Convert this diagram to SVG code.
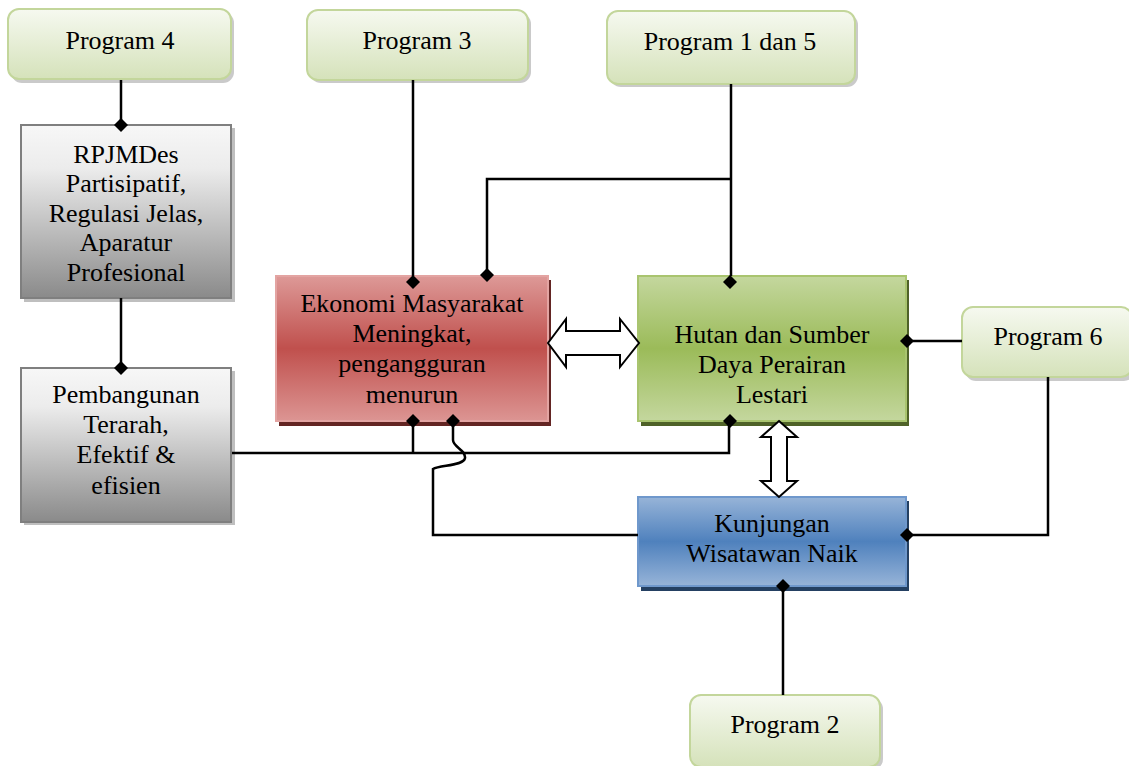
<svg xmlns="http://www.w3.org/2000/svg" xmlns:xlink="http://www.w3.org/1999/xlink" width="1129" height="766" viewBox="0 0 1129 766">
<defs>
<linearGradient id="gProg" x1="0" y1="0" x2="0" y2="1"><stop offset="0" stop-color="#f6f9f0"/><stop offset="1" stop-color="#d5e2ba"/></linearGradient>
<linearGradient id="gGray" x1="0" y1="0" x2="0" y2="1"><stop offset="0" stop-color="#f7f7f7"/><stop offset="0.25" stop-color="#ececec"/><stop offset="1" stop-color="#8a8a8a"/></linearGradient>
<linearGradient id="gRed" x1="0" y1="0" x2="0" y2="1"><stop offset="0" stop-color="#dd9997"/><stop offset="0.5" stop-color="#c0504d"/><stop offset="1" stop-color="#dc9593"/></linearGradient>
<linearGradient id="gGreen" x1="0" y1="0" x2="0" y2="1"><stop offset="0" stop-color="#c4d79e"/><stop offset="0.5" stop-color="#9bbb59"/><stop offset="1" stop-color="#c4d79e"/></linearGradient>
<linearGradient id="gBlue" x1="0" y1="0" x2="0" y2="1"><stop offset="0" stop-color="#97b4d8"/><stop offset="0.5" stop-color="#4f81bd"/><stop offset="1" stop-color="#97b4d8"/></linearGradient>
<path id="dia" d="M0,-7 L7,0 L0,7 L-7,0 Z" fill="#000"/>
</defs>
<style>
text{font-family:"Liberation Serif","Times New Roman","DejaVu Serif",serif;font-size:26px;fill:#000;text-anchor:middle}
.prog{fill:url(#gProg);stroke:#c3d69b;stroke-width:2}
.progSh{fill:#a6a6a6;opacity:0.6}
.gray{fill:url(#gGray);stroke:#7f7f7f;stroke-width:2}
.graySh{fill:#bfbfbf}
.red{fill:url(#gRed);stroke:#e3a4a2;stroke-width:2}
.redSh{fill:#632523}
.green{fill:url(#gGreen);stroke:#a9c46f;stroke-width:2}
.greenSh{fill:#4f6228}
.blue{fill:url(#gBlue);stroke:#6f98cc;stroke-width:2}
.blueSh{fill:#244062}
.conn{fill:none;stroke:#000;stroke-width:2.5}
.dbl{fill:#fff;stroke:#000;stroke-width:2;stroke-linejoin:miter}
</style>
<rect width="1129" height="766" fill="#fff"/>
<g id="program4">
<rect class="progSh" x="11" y="12" width="223" height="71" rx="11"/>
<rect class="prog" x="8" y="9" width="223" height="70" rx="11"/>
<text x="120" y="49">Program 4</text>
</g>
<g id="program3">
<rect class="progSh" x="310" y="13" width="221" height="70" rx="11"/>
<rect class="prog" x="307" y="10" width="221" height="70" rx="11"/>
<text x="417" y="49">Program 3</text>
</g>
<g id="program15">
<rect class="progSh" x="610" y="14" width="248" height="73" rx="11"/>
<rect class="prog" x="607" y="11" width="248" height="73" rx="11"/>
<text x="730" y="50">Program 1 dan 5</text>
</g>
<g id="rpjmdes">
<rect class="graySh" x="24" y="128" width="211" height="174"/>
<rect class="gray" x="21" y="125" width="210" height="173"/>
<text x="126" y="163">RPJMDes</text>
<text x="126" y="192">Partisipatif,</text>
<text x="126" y="222">Regulasi Jelas,</text>
<text x="126" y="251">Aparatur</text>
<text x="126" y="281">Profesional</text>
</g>
<g id="pembangunan">
<rect class="graySh" x="24" y="371" width="211" height="154"/>
<rect class="gray" x="21" y="368" width="210" height="154"/>
<text x="126" y="403">Pembangunan</text>
<text x="126" y="433">Terarah,</text>
<text x="126" y="463">Efektif &amp;</text>
<text x="126" y="494">efisien</text>
</g>
<g id="ekonomi">
<rect class="redSh" x="279" y="280" width="272" height="146"/>
<rect class="red" x="276" y="276" width="272" height="145"/>
<text x="412" y="312">Ekonomi Masyarakat</text>
<text x="412" y="342">Meningkat,</text>
<text x="412" y="372">pengangguran</text>
<text x="412" y="403">menurun</text>
</g>
<g id="hutan">
<rect class="greenSh" x="641" y="280" width="268" height="146"/>
<rect class="green" x="638" y="276" width="268" height="145"/>
<text x="772" y="343">Hutan dan Sumber</text>
<text x="772" y="373">Daya Perairan</text>
<text x="772" y="403">Lestari</text>
</g>
<g id="kunjungan">
<rect class="blueSh" x="641" y="501" width="268" height="90"/>
<rect class="blue" x="638" y="497" width="268" height="89"/>
<text x="772" y="532">Kunjungan</text>
<text x="772" y="562">Wisatawan Naik</text>
</g>
<g id="program6">
<rect class="progSh" x="965" y="310" width="170" height="71" rx="11"/>
<rect class="prog" x="962" y="307" width="170" height="70" rx="11"/>
<text x="1048" y="345">Program 6</text>
</g>
<g id="program2">
<rect class="progSh" x="693" y="698" width="190" height="72" rx="11"/>
<rect class="prog" x="690" y="695" width="190" height="72" rx="11"/>
<text x="785" y="733">Program 2</text>
</g>
<g id="connectors">
<path class="conn" d="M121,80 V125"/>
<path class="conn" d="M121,298 V368"/>
<path class="conn" d="M413,80 V276"/>
<path class="conn" d="M731,84 V276"/>
<path class="conn" d="M731,179 H487 V276"/>
<path class="conn" d="M232,453 H729 V421"/>
<path class="conn" d="M413,453 V421"/>
<path class="conn" d="M453,421 V440 C453,447 466,450 465,458 C464,466 440,465 433,469 V535 H638"/>
<path class="conn" d="M962,341 H906"/>
<path class="conn" d="M1048,377 V535 H906"/>
<path class="conn" d="M783,587 V695"/>
<use xlink:href="#dia" x="121" y="125"/>
<use xlink:href="#dia" x="121" y="368"/>
<use xlink:href="#dia" x="413" y="282"/>
<use xlink:href="#dia" x="487" y="275"/>
<use xlink:href="#dia" x="730" y="282"/>
<use xlink:href="#dia" x="413" y="421"/>
<use xlink:href="#dia" x="453" y="421"/>
<use xlink:href="#dia" x="730" y="421"/>
<use xlink:href="#dia" x="907" y="341"/>
<use xlink:href="#dia" x="907" y="535"/>
<use xlink:href="#dia" x="783" y="586"/>
<path class="dbl" d="M548,343 L566,319 V331 H620 V319 L639,343 L620,367 V355 H566 V367 Z"/>
<path class="dbl" d="M779,421 L797,437 H787 V481 H797 L779,497 L761,481 H771 V437 H761 Z"/>
</g>
</svg>
